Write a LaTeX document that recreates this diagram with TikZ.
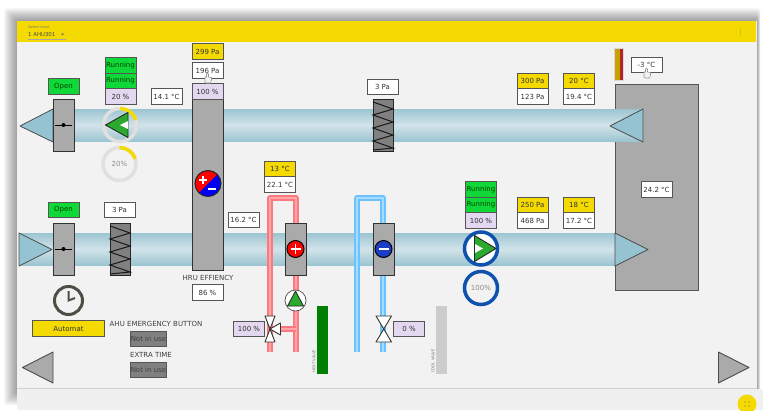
\documentclass[tikz,border=0pt]{standalone}
\usepackage{fontspec}
\setmainfont{DejaVu Sans}
\definecolor{hvacyellow}{HTML}{F4DA00}
\definecolor{grun}{HTML}{10D838}
\definecolor{lav}{HTML}{E4D8F0}
\definecolor{bgc}{HTML}{F2F2F2}
\definecolor{edgec}{HTML}{555555}
\definecolor{graybox}{HTML}{AAAAAA}
\definecolor{duct}{HTML}{9CC5D2}
\definecolor{ductm}{HTML}{D2E3E9}
\definecolor{tri}{HTML}{95C3D2}
\definecolor{pgreen}{HTML}{2CAA30}
\definecolor{fblue}{HTML}{0F52AE}
\definecolor{redp}{HTML}{FF7880}
\definecolor{redl}{HTML}{FFA8A8}
\definecolor{bluep}{HTML}{6CC2FA}
\definecolor{bluel}{HTML}{A8DCFF}
\definecolor{clockc}{HTML}{4F4E45}
\definecolor{goldc}{HTML}{C8A000}
\definecolor{brickc}{HTML}{B02525}
\definecolor{coolc}{HTML}{1A3FC4}
\tikzset{
  x=1pt,y=-1pt,
  tag/.style={draw=edgec,line width=1pt,minimum width=31pt,minimum height=15.5pt,inner sep=0pt,font=\fontsize{7}{8}\selectfont,text=black!80,anchor=center},
  whitetag/.style={tag,fill=white},
  yellowtag/.style={tag,fill=hvacyellow},
  greentag/.style={tag,fill=grun,text=black!75!green},
  lavtag/.style={tag,fill=lav},
  darktag/.style={tag,fill=black!50,minimum width=36pt,text=black!75},
  body/.style={draw=black!80,line width=1pt,fill=graybox},
  tribox/.style={draw=black!70,line width=.8pt,fill=tri,line join=round},
  caption/.style={font=\fontsize{7}{8}\selectfont,text=black!75,inner sep=0pt},
  tinylabel/.style={font=\fontsize{3.8}{4}\selectfont,text=black!55,inner sep=0pt,rotate=90},
  gauge/.style={font=\fontsize{7}{8}\selectfont,text=black!45,inner sep=0pt},
  filt/.style={draw=black!85,line width=1pt,fill=black!50},
  valve/.style={draw=black!80,line width=.9pt,fill=white,line join=round},
  cursorh/.style={draw=black!40,line width=.6pt,fill=white!95!black}
}
\newcommand{\ductbar}[3]{% x1,x2,ytop
  \fill[top color=duct,bottom color=ductm] (#1,#3) rectangle (#2,#3+16);
  \fill[top color=ductm,bottom color=duct] (#1,#3+16) rectangle (#2,#3+32);
}
\newcommand{\filterat}[2]{% x left, y top
  \draw[filt] (#1,#2) rectangle (#1+20,#2+52);
  \draw[line width=1pt,black!90] (#1,#2+3) -- (#1+20,#2+10) -- (#1,#2+16) -- (#1+20,#2+23) -- (#1,#2+29) -- (#1+20,#2+36) -- (#1,#2+42) -- (#1+20,#2+49) -- (#1,#2+51);
}
\newcommand{\damperat}[2]{% x left, y top
  \draw[body] (#1,#2) rectangle (#1+21,#2+52);
  \draw[line width=.9pt,black] (#1+2,#2+26) -- (#1+19,#2+26);
  \fill[black] (#1+10.5,#2+26) circle (2);
}
\newcommand{\handat}[2]{%
  \draw[cursorh] (#1-3,#2+4) -- (#1-3,#2-1) -- (#1-1.5,#2-1) -- (#1-1.5,#2-4) arc[start angle=180,end angle=360,radius=1] -- (#1+.5,#2-1) -- (#1+3.5,#2-.5) -- (#1+3.5,#2+2) -- (#1+2.5,#2+5) -- (#1-2,#2+5) -- cycle;
}
\begin{document}
\begin{tikzpicture}
\useasboundingbox (0,0) rectangle (763,410);
\fill[white] (0,0) rectangle (763,410);
% soft shadow round the panel
\foreach \i in {13,12,...,1}
  \fill[black,opacity=.03,rounded corners=3pt] (17-\i,21-\i) rectangle ({757+\i/4},392+\i);
% panel
\fill[bgc] (17,21) rectangle (757,388);
\fill[black!6] (17,389) rectangle (763,410);
\draw[black!18,line width=1pt] (17,388) -- (757,388);
\fill[hvacyellow] (17,21) rectangle (756,42);
\node[inner sep=0pt,anchor=west,font=\fontsize{3.6}{4}\selectfont,text=black!55] (sel) at (28,27) {Select chart};
\node[inner sep=0pt,anchor=west,font=\fontsize{5.4}{6}\selectfont,text=black!70] (ahu) at (28,34.5) {1 AHU301};
\draw[black!35,line width=.5pt] (28,39) -- (66,39);
\fill[black!60] (61,33.5) -- (64,33.5) -- (62.5,35.5) -- cycle;
\foreach \yy in {30,32,34} \fill[black!50] (740.5,\yy) circle (.5);
% ducts
\ductbar{70}{643}{109}
\ductbar{20}{616}{233}
% big unit
\draw[draw=edgec,line width=1pt,fill=graybox] (615,84) rectangle (698,290);
\fill[top color=duct,bottom color=ductm] (615,109) rectangle (643,125);
\fill[top color=ductm,bottom color=duct] (615,125) rectangle (643,141);
\draw[tribox] (610,126) -- (643,109) -- (643,142) -- cycle;
\draw[tribox] (615,233) -- (648,249.5) -- (615,266) -- cycle;
\node[whitetag] (room) at (656.5,189.5) {24.2 °C};
% outdoor stripe
\fill[black!15] (614,48) rectangle (624,81);
\fill[goldc] (615,49) rectangle (619.5,80);
\fill[brickc] (619.5,49) rectangle (623,80);
\node[whitetag] (tout) at (646.5,65) {-3 °C};
\handat{647}{73}
% dampers
\draw[tribox] (20,126) -- (53,109) -- (53,142) -- cycle;
\damperat{53}{99}
\node[greentag] (open1) at (63.5,86.5) {Open};
\draw[tribox] (19,233) -- (52,249.5) -- (19,266) -- cycle;
\damperat{53}{223}
\node[greentag] (open2) at (63.5,210) {Open};
% supply fan (top)
\node[greentag] (runa) at (120.5,65.5) {Running};
\node[greentag] (runb) at (120.5,81) {Running};
\node[lavtag] (pc1) at (120.5,96.5) {20 \%};
\draw[line width=3.5pt,black!12] (120,125) circle (16.5);
\draw[line width=3.5pt,hvacyellow] (120,108.5) arc[start angle=-90,end angle=-18,radius=16.5];
\draw[black!85,line width=.9pt,fill=pgreen,line join=round] (105.5,125) -- (128,112.5) -- (128,137.5) -- cycle;
\fill[white] (120,125) -- (128,121) -- (128,129) -- cycle;
\draw[line width=3.5pt,black!12] (119.5,164) circle (16.5);
\draw[line width=3.5pt,hvacyellow] (119.5,147.5) arc[start angle=-90,end angle=-18,radius=16.5];
\node[gauge] (g1) at (119.5,164) {20\%};
\node[whitetag] (t141) at (166.5,96.5) {14.1 °C};
% HRU
\draw[body] (192,99) rectangle (223,270);
\node[yellowtag] (p299) at (207.5,51.5) {299 Pa};
\node[whitetag] (p196) at (207.5,70.5) {196 Pa};
\node[lavtag] (pc100) at (207.5,91.5) {100 \%};
\handat{208}{78}
\begin{scope}
  \clip (208,183.5) circle (13);
  \fill[blue!95!black] (194,198) rectangle (222,170);
  \fill[red] (195,170.5) -- (221,170.5) -- (195,196.5) -- cycle;
\end{scope}
\draw[black!85,line width=1pt] (208,183.5) circle (13);
\draw[white,line width=2pt] (199,180) -- (207,180) (203,176) -- (203,184);
\draw[white,line width=2pt] (208,188.5) -- (216,188.5);
\node[caption] (hrut) at (208,277.5) {HRU EFFIENCY};
\node[whitetag] (p86) at (207.5,292.5) {86 \%};
\node[whitetag] (t162) at (243.5,220) {16.2 °C};
% filters
\filterat{110}{223}
\node[whitetag] (p3a) at (119.5,210) {3 Pa};
\filterat{373}{99}
\node[whitetag] (p3b) at (382.5,87) {3 Pa};
% clock
\draw[clockc,line width=3pt] (68.5,300.5) circle (14);
\draw[clockc,line width=2pt] (68.5,291) -- (68.5,300.5) -- (75,298);
% left controls
\node[tag,fill=hvacyellow,minimum width=72pt] (auto) at (68.5,328.5) {Automat};
\node[caption] (emerg) at (156,324) {AHU EMERGENCY BUTTON};
\node[darktag] (nu1) at (148.5,339) {Not in use};
\node[caption] (extra) at (151,355) {EXTRA TIME};
\node[darktag] (nu2) at (148.5,370) {Not in use};
\draw[draw=black!70,line width=.9pt,fill=graybox,line join=round] (22.5,367.5) -- (53,352) -- (53,383) -- cycle;
\draw[draw=black!70,line width=.9pt,fill=graybox,line join=round] (718.5,352) -- (749,367.5) -- (718.5,383) -- cycle;
% heating loop
\draw[redp,line width=5.6pt,line join=round] (270,352) -- (270,198) -- (296,198) -- (296,352);
\draw[redl,line width=1.4pt,line join=round] (270,352) -- (270,198) -- (296,198) -- (296,352);
\draw[redp,line width=5.6pt] (278,329) -- (296,329);
\draw[redl,line width=1.4pt] (278,329) -- (296,329);
\draw[body] (285,223) rectangle (306,275);
\draw[black,line width=1pt,fill=red] (295.5,249) circle (8.5);
\draw[white,line width=1.8pt] (290.5,249) -- (300.5,249) (295.5,244) -- (295.5,254);
\node[yellowtag] (t13) at (280,169) {13 °C};
\node[whitetag] (t221) at (280,184.5) {22.1 °C};
\draw[black!70,line width=.7pt,fill=white] (295.5,300.5) circle (10.5);
\draw[black!85,line width=.8pt,fill=pgreen,line join=round] (295.5,291) -- (287.5,306) -- (303.5,306) -- cycle;
\draw[valve] (265,316) -- (275,316) -- (265,342) -- (275,342) -- cycle;
\draw[valve] (270,329) -- (280.5,323) -- (280.5,335) -- cycle;
\node[lavtag] (pc3) at (249,329) {100 \%};
\fill[green!50!black] (317,306) rectangle (328,374);
\node[tinylabel] (hv) at (314,361) {HEAT VALVE};
% cooling loop
\draw[bluep,line width=5.6pt,line join=round] (357,352) -- (357,198) -- (383,198) -- (383,352);
\draw[bluel,line width=1.4pt,line join=round] (357,352) -- (357,198) -- (383,198) -- (383,352);
\draw[body] (373,223) rectangle (394,275);
\draw[black,line width=1pt,fill=coolc] (383.5,249) circle (8.5);
\draw[white,line width=1.8pt] (378.5,249) -- (388.5,249);
\draw[valve] (376,316) -- (391.5,316) -- (376,342) -- (391.5,342) -- cycle;
\node[lavtag] (pc4) at (409,329) {0 \%};
\fill[black!20] (436,306) rectangle (447,374);
\node[tinylabel] (cv) at (433,361) {COOL VALVE};
% return fan (bottom)
\node[greentag] (runc) at (481,189.5) {Running};
\node[greentag] (rund) at (481,205) {Running};
\node[lavtag] (pc5) at (481,220.5) {100 \%};
\fill[white] (481,248.5) circle (16);
\draw[line width=3.5pt,fblue] (481,248.5) circle (16.5);
\draw[black!85,line width=.9pt,fill=pgreen,line join=round] (474.5,235.5) -- (496,248.5) -- (474.5,261.5) -- cycle;
\fill[white] (475,244) -- (483,248.5) -- (475,253) -- cycle;
\draw[line width=3.5pt,fblue] (481,288) circle (16.5);
\node[gauge] (g2) at (481,288) {100\%};
% setpoints
\node[yellowtag] (p300) at (532.5,81) {300 Pa};
\node[whitetag] (p123) at (532.5,96.5) {123 Pa};
\node[yellowtag] (t20) at (579,81) {20 °C};
\node[whitetag] (t194) at (579,96.5) {19.4 °C};
\node[yellowtag] (p250) at (532.5,205) {250 Pa};
\node[whitetag] (p468) at (532.5,220.5) {468 Pa};
\node[yellowtag] (t18) at (579,205) {18 °C};
\node[whitetag] (t172) at (579,220.5) {17.2 °C};
% round button
\begin{scope}
  \clip (0,0) rectangle (763,410);
  \fill[hvacyellow] (747,404) circle (9.5);
  \foreach \xx/\yy in {745/402,749/402,745/406,749/406} \fill[black!60] (\xx,\yy) circle (.7);
\end{scope}
\end{tikzpicture}
\end{document}
